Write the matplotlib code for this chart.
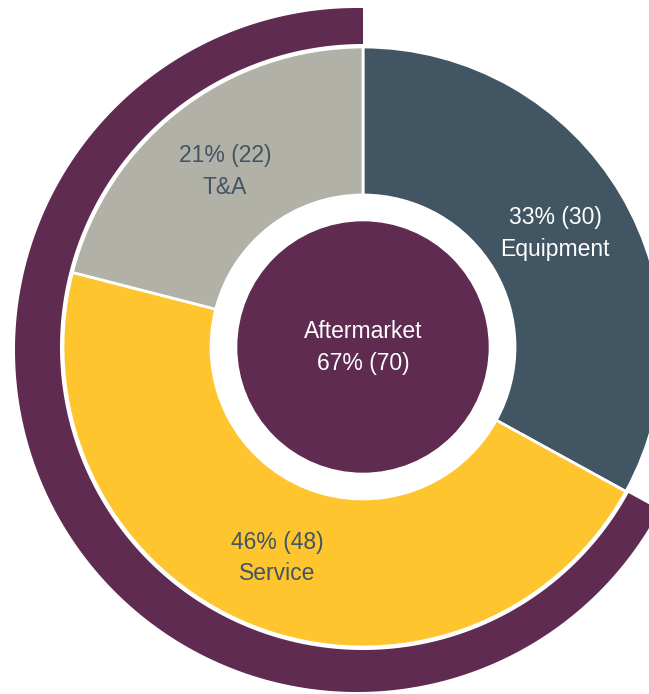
import numpy as np
import matplotlib.pyplot as plt
from matplotlib.patches import Polygon

# datos del grafico
segmentos = ["Equipment", "Service", "T&A"]
porcentajes = [33, 46, 21]
valores = [30, 48, 22]
aftermarket_pct = 67
aftermarket_val = 70

colores = ["#415563", "#FEC52E", "#B2B1A8"]
morado = "#5F2B51"
color_texto = ["white", "#415563", "#415563"]

plt.rcParams['font.family'] = ['Liberation Sans', 'DejaVu Sans']

fig = plt.figure(figsize=(6.49, 6.94), dpi=100)
ax = fig.add_axes([0, 0, 1, 1])

cx, cy = 363, 347  # centro en pixeles

# anillo interior (segmentos)
ax.pie(porcentajes, radius=300, center=(cx, cy), startangle=90, counterclock=False,
       colors=colores, wedgeprops=dict(width=148, edgecolor="white", linewidth=2))

# anillo exterior: aftermarket (borde exterior algo descentrado, como en el original)
c = np.array([cx, cy], dtype=float)
c2 = np.array([357.0, 344.0])
R_ext, r_int = 342, 303
ang = np.radians(np.linspace(90, 90 + 360 * aftermarket_pct / 100, 300))
u = np.column_stack([np.cos(ang), np.sin(ang)])
d = c - c2
du = u @ d
t = -du + np.sqrt(du ** 2 - d @ d + R_ext ** 2)
externo = c + u * t[:, None]
interno = c + u * r_int
ax.add_patch(Polygon(np.vstack([externo, interno[::-1]]), closed=True,
                     facecolor=morado, edgecolor="none"))

# circulo central
ax.add_patch(plt.Circle((cx, cy), 125, color=morado))

# etiquetas
pos_etiquetas = [(555, 461), (277, 136), (225, 523)]
for nombre, p, v, (x, y), col in zip(segmentos, porcentajes, valores, pos_etiquetas, color_texto):
    ax.text(x, y, "%d%% (%d)\n%s" % (p, v, nombre), ha="center", va="center",
            fontsize=16.5, color=col, linespacing=1.5)

ax.text(cx, 347, "Aftermarket\n%d%% (%d)" % (aftermarket_pct, aftermarket_val),
        ha="center", va="center", fontsize=16.5, color="white", linespacing=1.5)

ax.set_xlim(0, 649)
ax.set_ylim(0, 694)
ax.set_aspect("equal")
ax.axis("off")

fig.savefig("out.png", dpi=100)
